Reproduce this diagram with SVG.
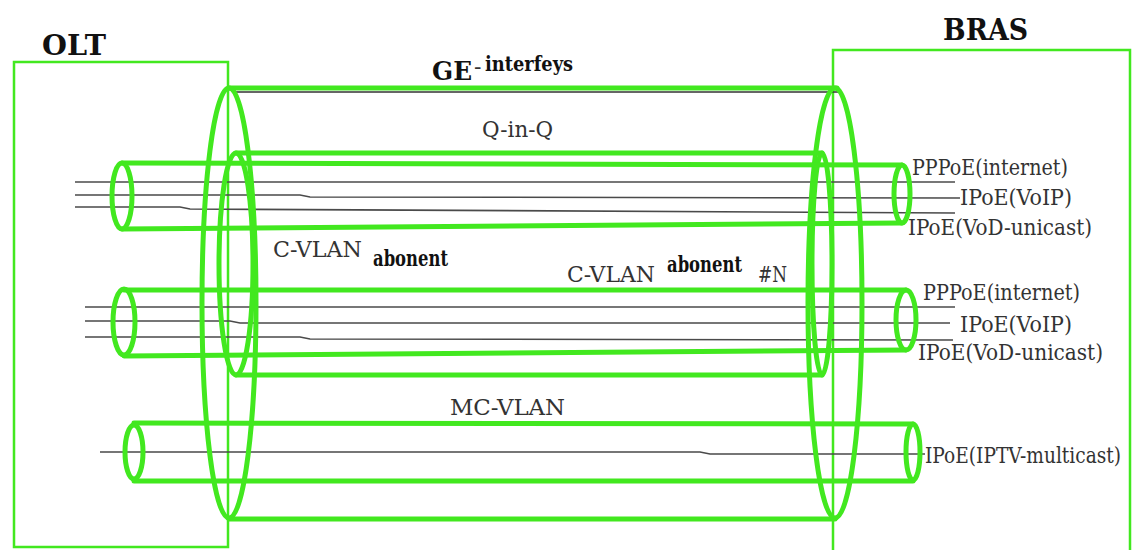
<svg xmlns="http://www.w3.org/2000/svg" width="1133" height="550" viewBox="0 0 1133 550">
<style>
.box{fill:none;stroke:#42e81f;stroke-width:2.5}
.g{fill:none;stroke:#42e81f;stroke-width:5;stroke-linecap:round}
.ln{fill:none;stroke:#4a4a4a;stroke-width:1.6}
.t{font-family:'DejaVu Serif','Liberation Serif',serif;font-size:22px;fill:#333}
.b{font-family:'DejaVu Serif','Liberation Serif',serif;font-weight:bold;fill:#111}
</style>
<rect width="1133" height="550" fill="#fff"/>
<g id="olt">
<rect class="box" x="14" y="62" width="214" height="485"/>
<text class="b" x="42" y="55" font-size="28" textLength="64" lengthAdjust="spacingAndGlyphs">OLT</text>
</g>
<g id="bras">
<polyline class="box" points="833,560 833,50 1130,50 1130,560"/>
<text class="b" x="943" y="40" font-size="29" textLength="85" lengthAdjust="spacingAndGlyphs">BRAS</text>
</g>
<g id="connectors">
<polyline class="ln" points="75,182 600,182 955,182"/>
<polyline class="ln" points="75,195 300,195 310,197 960,198"/>
<polyline class="ln" points="75,207 180,207 190,209 955,213"/>
<polyline class="ln" points="85,307 955,307"/>
<polyline class="ln" points="85,321 230,321 240,323 950,323"/>
<polyline class="ln" points="85,337 300,337 310,339 953,340"/>
<polyline class="ln" points="100,452 700,452 710,454 925,454"/>
</g>
<g id="ge-interface">
<line x1="232" y1="92" x2="840" y2="92" stroke="#333" stroke-width="1.5"/>
<line class="g" x1="229" y1="88" x2="837" y2="88"/>
<line class="g" x1="229" y1="519" x2="835" y2="519"/>
<ellipse class="g" cx="229" cy="303" rx="27" ry="215"/>
<ellipse class="g" cx="835" cy="303" rx="27" ry="215"/>
<text x="432" y="80"><tspan class="b" font-size="26" textLength="40" lengthAdjust="spacingAndGlyphs">GE</tspan><tspan class="t" font-size="14" x="474" y="74">-</tspan><tspan class="b" font-size="21" x="485" y="71" textLength="88" lengthAdjust="spacingAndGlyphs">interfeys</tspan></text>
</g>
<g id="q-in-q">
<line class="g" x1="236" y1="153" x2="822" y2="153"/>
<line class="g" x1="236" y1="375" x2="822" y2="375"/>
<ellipse class="g" cx="236" cy="264" rx="17" ry="111"/>
<ellipse class="g" cx="822" cy="264" rx="10" ry="111"/>
<text class="t" x="482" y="137" font-size="24" textLength="71" lengthAdjust="spacingAndGlyphs">Q-in-Q</text>
</g>
<g id="c-vlan-1">
<line class="g" x1="122" y1="163" x2="902" y2="165"/>
<line class="g" x1="122" y1="229" x2="902" y2="223"/>
<ellipse class="g" cx="122" cy="196" rx="10" ry="33"/>
<ellipse class="g" cx="902" cy="194" rx="8" ry="29"/>
<text class="t" x="273" y="257" font-size="24" textLength="89" lengthAdjust="spacingAndGlyphs">C-VLAN</text>
<text class="b" x="373" y="266" font-size="22" textLength="75" lengthAdjust="spacingAndGlyphs">abonent</text>
<text class="t" x="912" y="175" textLength="156" lengthAdjust="spacingAndGlyphs">PPPoE(internet)</text>
<text class="t" x="960" y="205" textLength="112" lengthAdjust="spacingAndGlyphs">IPoE(VoIP)</text>
<text class="t" x="908" y="235" textLength="184" lengthAdjust="spacingAndGlyphs">IPoE(VoD-unicast)</text>
</g>
<g id="c-vlan-n">
<line class="g" x1="124" y1="290" x2="906" y2="290"/>
<line class="g" x1="124" y1="356" x2="906" y2="350"/>
<ellipse class="g" cx="124" cy="322" rx="11" ry="33"/>
<ellipse class="g" cx="906" cy="320" rx="10" ry="30"/>
<text class="t" x="567" y="282" font-size="24" textLength="88" lengthAdjust="spacingAndGlyphs">C-VLAN</text>
<text class="b" x="667" y="272" font-size="22" textLength="75" lengthAdjust="spacingAndGlyphs">abonent</text>
<text class="t" x="758" y="282" font-size="22" textLength="29" lengthAdjust="spacingAndGlyphs">#N</text>
<text class="t" x="923" y="300" textLength="157" lengthAdjust="spacingAndGlyphs">PPPoE(internet)</text>
<text class="t" x="960" y="332" textLength="112" lengthAdjust="spacingAndGlyphs">IPoE(VoIP)</text>
<text class="t" x="918" y="360" textLength="185" lengthAdjust="spacingAndGlyphs">IPoE(VoD-unicast)</text>
</g>
<g id="mc-vlan">
<line class="g" x1="134" y1="423" x2="913" y2="424"/>
<line class="g" x1="134" y1="481" x2="913" y2="481"/>
<ellipse class="g" cx="134" cy="452" rx="9" ry="27"/>
<ellipse class="g" cx="913" cy="452" rx="7" ry="28"/>
<text class="t" x="450" y="415" textLength="115" lengthAdjust="spacingAndGlyphs">MC-VLAN</text>
<text class="t" x="925" y="463" textLength="196" lengthAdjust="spacingAndGlyphs">IPoE(IPTV-multicast)</text>
</g>
</svg>
